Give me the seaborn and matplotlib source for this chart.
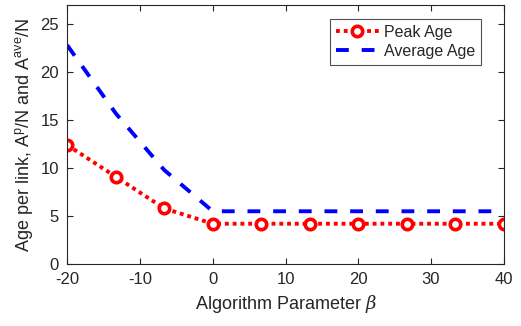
import numpy as np
import pandas as pd
import matplotlib
matplotlib.use("Agg")
import matplotlib.pyplot as plt
import seaborn as sns

beta = [-20, -13.33, -6.67, 0, 6.67, 13.33, 20, 26.67, 33.33, 40]
peak_age = [12.4, 9.1, 5.8, 4.2, 4.2, 4.2, 4.2, 4.2, 4.2, 4.2]
avg_age = [22.8, 15.7, 9.8, 5.5, 5.5, 5.5, 5.5, 5.5, 5.5, 5.5]
xticks = [-20, -10, 0, 10, 20, 30, 40]
yticks = [0, 5, 10, 15, 20, 25]

sns.set_style("white")
plt.rcParams['font.family'] = ['Liberation Sans', 'DejaVu Sans']
plt.rcParams['axes.unicode_minus'] = False
plt.rcParams['mathtext.fontset'] = 'custom'
plt.rcParams['mathtext.rm'] = 'Liberation Sans'
plt.rcParams['mathtext.it'] = 'DejaVu Serif:italic'

df_p = pd.DataFrame({"beta": beta, "val": peak_age})
df_a = pd.DataFrame({"beta": beta, "val": avg_age})

fig = plt.figure(figsize=(5.21, 3.26), dpi=100)
ax = fig.add_axes([0.129, 0.19, 0.838, 0.795])

sns.lineplot(data=df_p, x="beta", y="val", ax=ax, color="#ff0000", lw=2.8,
             linestyle=(0, (1.0, 1.0)), marker="o", markersize=7.5,
             markerfacecolor="white", markeredgecolor="#ff0000", markeredgewidth=2.6,
             label="Peak Age")
sns.lineplot(data=df_a, x="beta", y="val", ax=ax, color="#0000ff", lw=2.8,
             linestyle=(0, (3.3, 3.3)), label="Average Age")

ax.set_xlim(-20, 40)
ax.set_ylim(0, 27)
ax.set_xticks(xticks)
ax.set_yticks(yticks)
ax.tick_params(direction="in", length=4, width=0.8, colors="#262626", labelsize=12,
               top=True, right=True, bottom=True, left=True, pad=6)
for s in ax.spines.values():
    s.set_color("#262626")
    s.set_linewidth(0.8)
ax.set_xlabel(r"Algorithm Parameter $\beta$", fontsize=13, color="#262626")
ax.set_ylabel(r"Age per link, A$^{\rm p}$/N and A$^{\rm ave}$/N", fontsize=13, color="#262626")

leg = ax.legend(loc="upper right", bbox_to_anchor=(0.965, 0.975), fontsize=11.5, frameon=True,
                fancybox=False, edgecolor="#262626", handlelength=2.7, borderpad=0.35,
                labelspacing=0.25, handletextpad=0.3)
leg.get_frame().set_linewidth(0.8)

fig.savefig("out.png", dpi=100)
